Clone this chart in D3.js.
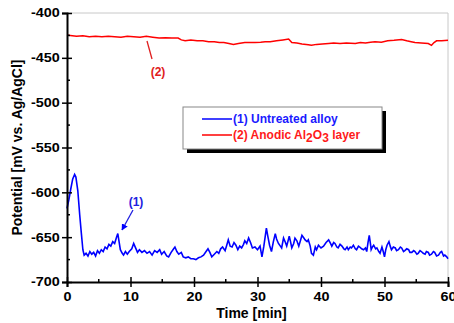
<!DOCTYPE html>
<html lang="en">
<head>
<meta charset="UTF-8">
<title>OCP vs time</title>
<script src="https://d3js.org/d3.v7.min.js"></script>
<style>
  body { margin: 0; background: #fff; }
  text { font-family: Arial, "Liberation Sans", sans-serif; font-weight: bold; }
</style>
</head>
<body>
<div id="chart"></div>
<script>
// data
var xTicks = [0, 10, 20, 30, 40, 50, 60];
var yTicks = [-400, -450, -500, -550, -600, -650, -700];

// (1) untreated alloy
var blueTime = [0, 0.3, 0.6, 0.9, 1.2, 1.4, 1.7, 2.0, 2.25, 2.5, 2.7, 3.0, 3.3, 3.6, 3.9, 4.2, 4.5, 4.8, 5.1, 5.4,
  5.7, 6.0, 6.3, 6.6, 6.9, 7.2, 7.5, 7.8, 8.0, 8.2, 8.4, 8.7, 8.9, 9.2, 9.5, 9.8, 10.2, 10.5, 10.8, 11.1,
  11.4, 11.8, 12.2, 12.6, 13.0, 13.4, 13.8, 14.2, 14.6, 14.9, 15.3, 15.7, 16.0, 16.4, 16.8, 17.0, 17.3, 17.6, 18.0, 18.3,
  18.7, 19.1, 19.5, 19.9, 20.3, 20.7, 21.1, 21.5, 21.9, 22.2, 22.5, 22.8, 23.2, 23.6, 23.9, 24.2, 24.5, 24.9, 25.2, 25.4,
  25.7, 26.0, 26.3, 26.6, 26.9, 27.2, 27.5, 27.8, 28.0, 28.3, 28.6, 28.9, 29.2, 29.6, 30.0, 30.4, 30.7, 31.0, 31.2, 31.4,
  31.6, 31.9, 32.2, 32.5, 32.8, 33.0, 33.3, 33.6, 33.8, 34.1, 34.4, 34.6, 35.0, 35.2, 35.4, 35.7, 35.9, 36.2, 36.5, 36.8,
  37.0, 37.3, 37.5, 37.8, 38.0, 38.3, 38.5, 38.8, 39.1, 39.3, 39.6, 40.0, 40.4, 40.8, 41.2, 41.5, 41.7, 42.0, 42.2, 42.5,
  42.7, 43.0, 43.3, 43.6, 43.8, 44.1, 44.3, 44.6, 44.8, 45.1, 45.4, 45.6, 45.9, 46.1, 46.4, 46.7, 47.0, 47.2, 47.4, 47.6,
  47.8, 47.9, 48.1, 48.3, 48.6, 48.8, 49.1, 49.3, 49.6, 49.8, 50.0, 50.2, 50.4, 50.7, 50.9, 51.1, 51.4, 51.7, 51.9, 52.2,
  52.5, 52.7, 53.0, 53.2, 53.5, 53.8, 54.0, 54.3, 54.6, 54.8, 55.1, 55.3, 55.6, 55.8, 56.1, 56.4, 56.6, 56.9, 57.1, 57.4,
  57.7, 57.9, 58.2, 58.5, 58.8, 59.0, 59.3, 59.5, 59.8, 60.0];
var bluePot = [-618, -608, -596, -585, -580, -583, -598, -625, -645, -664, -670, -668, -671, -666, -669, -667, -671, -665, -668, -664,
  -666, -661, -663, -658, -660, -655, -657, -650, -646, -655, -664, -668, -670, -666, -669, -666, -663, -657, -662, -667,
  -664, -667, -665, -668, -666, -670, -665, -667, -664, -669, -666, -671, -672, -667, -663, -661, -666, -669, -667, -672,
  -673, -672, -674, -674, -675, -673, -672, -670, -666, -663, -667, -672, -669, -666, -668, -663, -661, -665, -658, -653,
  -660, -661, -656, -659, -664, -660, -662, -658, -654, -657, -651, -656, -662, -661, -664, -660, -672, -660, -650, -640,
  -648, -659, -666, -655, -646, -652, -657, -660, -662, -651, -656, -660, -649, -655, -662, -657, -651, -654, -660, -653,
  -648, -651, -653, -655, -653, -660, -668, -670, -661, -664, -659, -662, -660, -656, -653, -657, -660, -656, -657, -661,
  -662, -658, -660, -663, -664, -661, -664, -661, -662, -659, -663, -664, -660, -661, -663, -664, -662, -666, -656, -648,
  -658, -664, -661, -659, -663, -662, -666, -668, -661, -666, -672, -664, -659, -655, -660, -664, -661, -662, -665, -664,
  -661, -662, -666, -665, -663, -664, -667, -667, -665, -666, -669, -668, -665, -666, -668, -669, -666, -667, -670, -669,
  -666, -667, -671, -670, -667, -666, -671, -670, -672, -674];

// (2) anodic Al2O3 layer
var redTime = [0, 0.5, 1.5, 2.5, 3.5, 4.5, 5.5, 6.5, 7.5, 8.5, 9.5, 10.5, 11.5, 12.5, 13.5, 14.5, 15.5, 16.5, 17.5, 18.0,
  18.6, 19.5, 20.5, 21.4, 22.3, 23.2, 24.0, 24.7, 25.5, 26.2, 27.0, 28.0, 28.6, 29.6, 30.5, 31.2, 32.0, 33.0, 34.0, 34.9,
  35.4, 36.2, 37.0, 38.0, 38.5, 39.3, 40.2, 41.2, 42.0, 43.0, 44.0, 45.4, 46.2, 47.0, 47.8, 48.5, 49.5, 50.5, 51.5, 52.7,
  53.5, 54.2, 54.8, 55.8, 56.9, 57.4, 57.8, 58.2, 59.0, 60.0];
var redPot = [-424.5, -425, -426, -425.5, -426.5, -426, -426.5, -426, -426.5, -427, -426, -426.5, -427, -426, -427, -428, -427.5, -428, -428, -430,
  -431, -430, -431, -431, -432, -432, -433, -433, -434, -435, -434, -433, -433, -433, -432.5, -432, -432, -431, -430, -429,
  -433, -433.5, -434.5, -435.5, -436, -435, -434.5, -434, -433.5, -434, -433.5, -434, -433, -433.5, -432.5, -432, -432.5, -431, -430.5, -429.5,
  -431, -432, -433, -433.5, -434, -436, -433, -431, -431, -430.5];

var W = 454, H = 323;
var margin = {top: 13, right: 6, bottom: 41, left: 67},
    width = W - margin.left - margin.right,
    height = H - margin.top - margin.bottom;

var svg = d3.select("#chart").append("svg")
    .attr("width", W)
    .attr("height", H);

var g = svg.append("g")
    .attr("transform", "translate(" + margin.left + "," + margin.top + ")");

var x = d3.scaleLinear().domain([0, 60]).range([0, width]);
var y = d3.scaleLinear().domain([-700, -400]).range([height, 0]);

// light frame top / right
g.append("line").attr("x1", 0).attr("x2", width).attr("y1", 0).attr("y2", 0)
  .attr("stroke", "#c8c8c8").attr("stroke-width", 1);
g.append("line").attr("x1", width).attr("x2", width).attr("y1", 0).attr("y2", height)
  .attr("stroke", "#c8c8c8").attr("stroke-width", 1);

// curves
var line = d3.line()
  .x(function(d) { return x(d[0]); })
  .y(function(d) { return y(d[1]); });

g.append("path")
  .datum(d3.zip(redTime, redPot))
  .attr("fill", "none")
  .attr("stroke", "#ff0000")
  .attr("stroke-width", 1.5)
  .attr("d", line);

g.append("path")
  .datum(d3.zip(blueTime, bluePot))
  .attr("fill", "none")
  .attr("stroke", "#0000ff")
  .attr("stroke-width", 1.6)
  .attr("d", line);

// axes
var xAxis = g.append("g")
  .attr("transform", "translate(0," + height + ")")
  .call(d3.axisBottom(x).tickValues(xTicks).tickSize(5).tickPadding(5));
var yAxis = g.append("g")
  .call(d3.axisLeft(y).tickValues(yTicks).tickSize(5).tickPadding(1).tickFormat(d3.format("d")));

[xAxis, yAxis].forEach(function(a) {
  a.select(".domain").attr("stroke", "#000").attr("stroke-width", 2);
  a.selectAll(".tick line").attr("stroke", "#000").attr("stroke-width", 1.5);
  a.selectAll("text").attr("fill", "#000").style("font-size", "12px")
    .style("font-family", "Arial, 'Liberation Sans', sans-serif").style("font-weight", "bold")
    .attr("transform", "scale(1.2,1)");
});
// major ticks cross the axis
xAxis.selectAll(".tick line").attr("y1", -5).attr("y2", 5);
yAxis.selectAll(".tick line").attr("x1", 5).attr("x2", -5);
yAxis.selectAll(".tick text").text(function(d) { return "-" + Math.abs(d); });

// minor ticks, inside
g.selectAll(".xminor").data([5, 15, 25, 35, 45, 55]).enter().append("line")
  .attr("x1", function(d) { return x(d); }).attr("x2", function(d) { return x(d); })
  .attr("y1", height).attr("y2", height - 3)
  .attr("stroke", "#000").attr("stroke-width", 1.5);
g.selectAll(".yminor").data([-425, -475, -525, -575, -625, -675]).enter().append("line")
  .attr("y1", function(d) { return y(d); }).attr("y2", function(d) { return y(d); })
  .attr("x1", 0).attr("x2", 3)
  .attr("stroke", "#000").attr("stroke-width", 1.5);

// axis titles
svg.append("text")
  .attr("x", margin.left + width / 2 - 6)
  .attr("y", 318)
  .attr("text-anchor", "middle")
  .style("font-size", "14px")
  .text("Time [min]");
svg.append("text")
  .attr("transform", "translate(22," + (margin.top + height / 2) + ") rotate(-90)")
  .attr("text-anchor", "middle")
  .style("font-size", "14px")
  .text("Potential [mV vs. Ag/AgCl]");

// annotations
svg.append("defs").selectAll("marker").data([["ab", "#0000ff"], ["ar", "#ff0000"]]).enter()
  .append("marker")
  .attr("id", function(d) { return d[0]; })
  .attr("viewBox", "0 0 10 10").attr("refX", 9).attr("refY", 5)
  .attr("markerWidth", 5).attr("markerHeight", 5)
  .attr("orient", "auto")
  .append("path").attr("d", "M0,0L10,5L0,10z").attr("fill", function(d) { return d[1]; });

svg.append("text").attr("x", 136).attr("y", 206).attr("text-anchor", "middle")
  .attr("fill", "#2020e0").style("font-size", "12px").text("(1)");
svg.append("line").attr("x1", 133).attr("y1", 210).attr("x2", 122).attr("y2", 230)
  .attr("stroke", "#2020e0").attr("stroke-width", 1.3).attr("marker-end", "url(#ab)");

svg.append("text").attr("x", 158).attr("y", 76).attr("text-anchor", "middle")
  .attr("fill", "#e02020").style("font-size", "12px").text("(2)");
svg.append("line").attr("x1", 152).attr("y1", 59).attr("x2", 147).attr("y2", 41)
  .attr("stroke", "#e02020").attr("stroke-width", 1.3);

// legend
var lg = svg.append("g").attr("transform", "translate(183,107)");
lg.append("rect").attr("x", 4).attr("y", 4).attr("width", 199).attr("height", 42).attr("fill", "#000");
lg.append("rect").attr("width", 199).attr("height", 42).attr("fill", "#fff")
  .attr("stroke", "#888").attr("stroke-width", 1);
lg.append("line").attr("x1", 19).attr("x2", 49).attr("y1", 12).attr("y2", 12)
  .attr("stroke", "#0000ff").attr("stroke-width", 1.5);
lg.append("line").attr("x1", 19).attr("x2", 49).attr("y1", 28).attr("y2", 28)
  .attr("stroke", "#ff0000").attr("stroke-width", 1.5);
lg.append("text").attr("x", 50).attr("y", 16).attr("fill", "#1a1aff")
  .style("font-size", "12px").text("(1) Untreated alloy");
var t2 = lg.append("text").attr("x", 50).attr("y", 32).attr("fill", "#ff1a1a").style("font-size", "12px");
t2.append("tspan").text("(2) Anodic Al");
t2.append("tspan").attr("dy", 3).text("2");
t2.append("tspan").attr("dy", -3).text("O");
t2.append("tspan").attr("dy", 3).text("3");
t2.append("tspan").attr("dy", -3).text(" layer");
</script>
</body>
</html>
